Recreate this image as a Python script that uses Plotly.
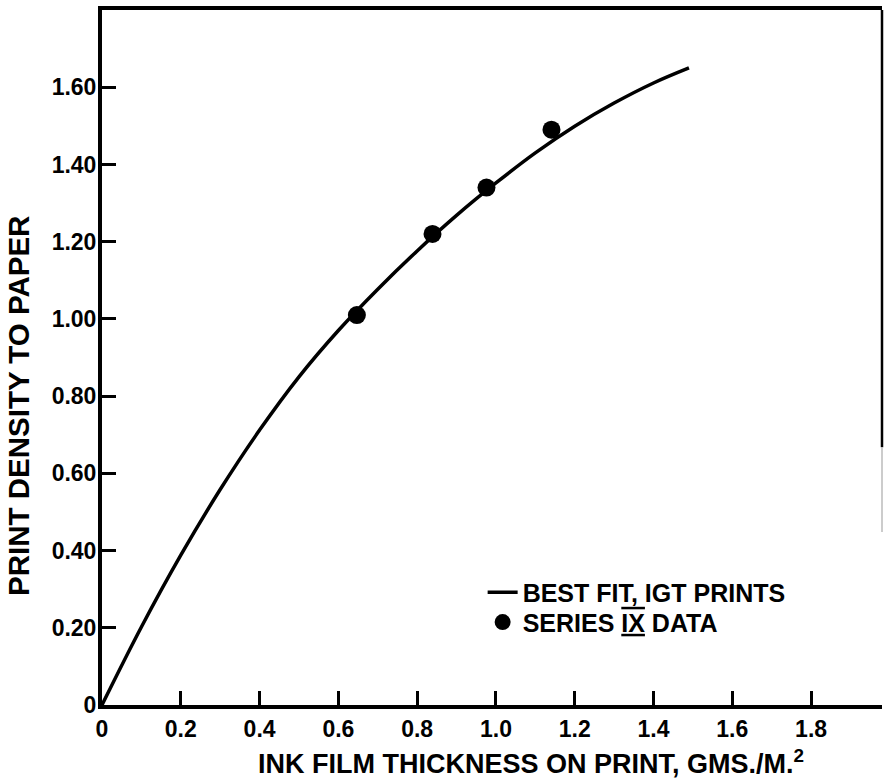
import plotly.graph_objects as go

# Best-fit curve (IGT prints)
fit_x = [0.0, 0.1, 0.2, 0.3, 0.4, 0.5, 0.6, 0.7, 0.8, 0.9, 1.0, 1.1, 1.2, 1.3, 1.4, 1.49]
fit_y = [0.0, 0.202, 0.388, 0.558, 0.712, 0.850, 0.970, 1.077, 1.176, 1.268, 1.352, 1.430, 1.499, 1.559, 1.611, 1.650]

# Series IX data points
data_x = [0.647, 0.839, 0.976, 1.141]
data_y = [1.01, 1.22, 1.34, 1.49]

x_ticks = [0, 0.2, 0.4, 0.6, 0.8, 1.0, 1.2, 1.4, 1.6, 1.8]
x_labels = ["0", "0.2", "0.4", "0.6", "0.8", "1.0", "1.2", "1.4", "1.6", "1.8"]
y_ticks = [0, 0.2, 0.4, 0.6, 0.8, 1.0, 1.2, 1.4, 1.6]
y_labels = ["0", "0.20", "0.40", "0.60", "0.80", "1.00", "1.20", "1.40", "1.60"]

FONT = "Liberation Sans, Arial, sans-serif"

fig = go.Figure()
fig.add_trace(go.Scatter(
    x=fit_x, y=fit_y, mode="lines", name="<b>BEST FIT, IGT PRINTS</b>",
    line=dict(color="black", width=3.5, shape="spline", smoothing=1.0),
    legend="legend",
))
fig.add_trace(go.Scatter(
    x=data_x, y=data_y, mode="markers",
    name='<b>SERIES <span style="text-decoration:underline overline">IX</span> DATA</b>',
    marker=dict(color="black", size=18),
    legend="legend2",
))

legend_font = dict(size=25, family=FONT, color="black")

fig.update_layout(
    width=885, height=782,
    margin=dict(l=102, r=3, t=10, b=77),
    paper_bgcolor="white", plot_bgcolor="white",
    font=dict(family=FONT, color="black"),
    showlegend=True,
    legend=dict(
        x=0.488, y=0.162, xanchor="left", yanchor="middle",
        bgcolor="rgba(0,0,0,0)", font=legend_font,
    ),
    legend2=dict(
        x=0.488, y=0.119, xanchor="left", yanchor="middle",
        bgcolor="rgba(0,0,0,0)", font=legend_font,
    ),
    xaxis=dict(
        range=[0, 1.98], tickvals=x_ticks, ticktext=["<b>%s</b>" % t for t in x_labels],
        ticks="inside", ticklen=14, tickwidth=3, tickcolor="black",
        showline=True, linewidth=4, linecolor="black", mirror=True,
        showgrid=False, zeroline=False,
        tickfont=dict(size=23, family=FONT, color="black"),
        ticklabelstandoff=0,
    ),
    yaxis=dict(
        range=[0, 1.80], tickvals=y_ticks, ticktext=["<b>%s</b>" % t for t in y_labels],
        ticks="inside", ticklen=14, tickwidth=3, tickcolor="black",
        showline=True, linewidth=4, linecolor="black", mirror=False,
        showgrid=False, zeroline=False,
        tickfont=dict(size=23, family=FONT, color="black"),
        ticklabelstandoff=-3,
    ),
    annotations=[
        dict(text="<b>INK FILM THICKNESS ON PRINT, GMS./M.<sup>2</sup></b>",
             xref="paper", yref="paper", x=0.55, y=-0.082,
             xanchor="center", yanchor="middle", showarrow=False,
             font=dict(size=27, family=FONT, color="black")),
        dict(text="<b>PRINT DENSITY TO PAPER</b>",
             xref="paper", yref="paper", x=-0.108, y=0.43,
             xanchor="center", yanchor="middle", showarrow=False, textangle=-90,
             font=dict(size=29.5, family=FONT, color="black")),
    ],
    shapes=[
        dict(type="line", xref="paper", yref="paper", x0=1, x1=1, y0=1, y1=0.371,
             line=dict(color="black", width=2.5)),
        dict(type="line", xref="paper", yref="paper", x0=1, x1=1, y0=0.371, y1=0.249,
             line=dict(color="#bbbbbb", width=1.5)),
    ],
)

fig.write_html("out.html")
